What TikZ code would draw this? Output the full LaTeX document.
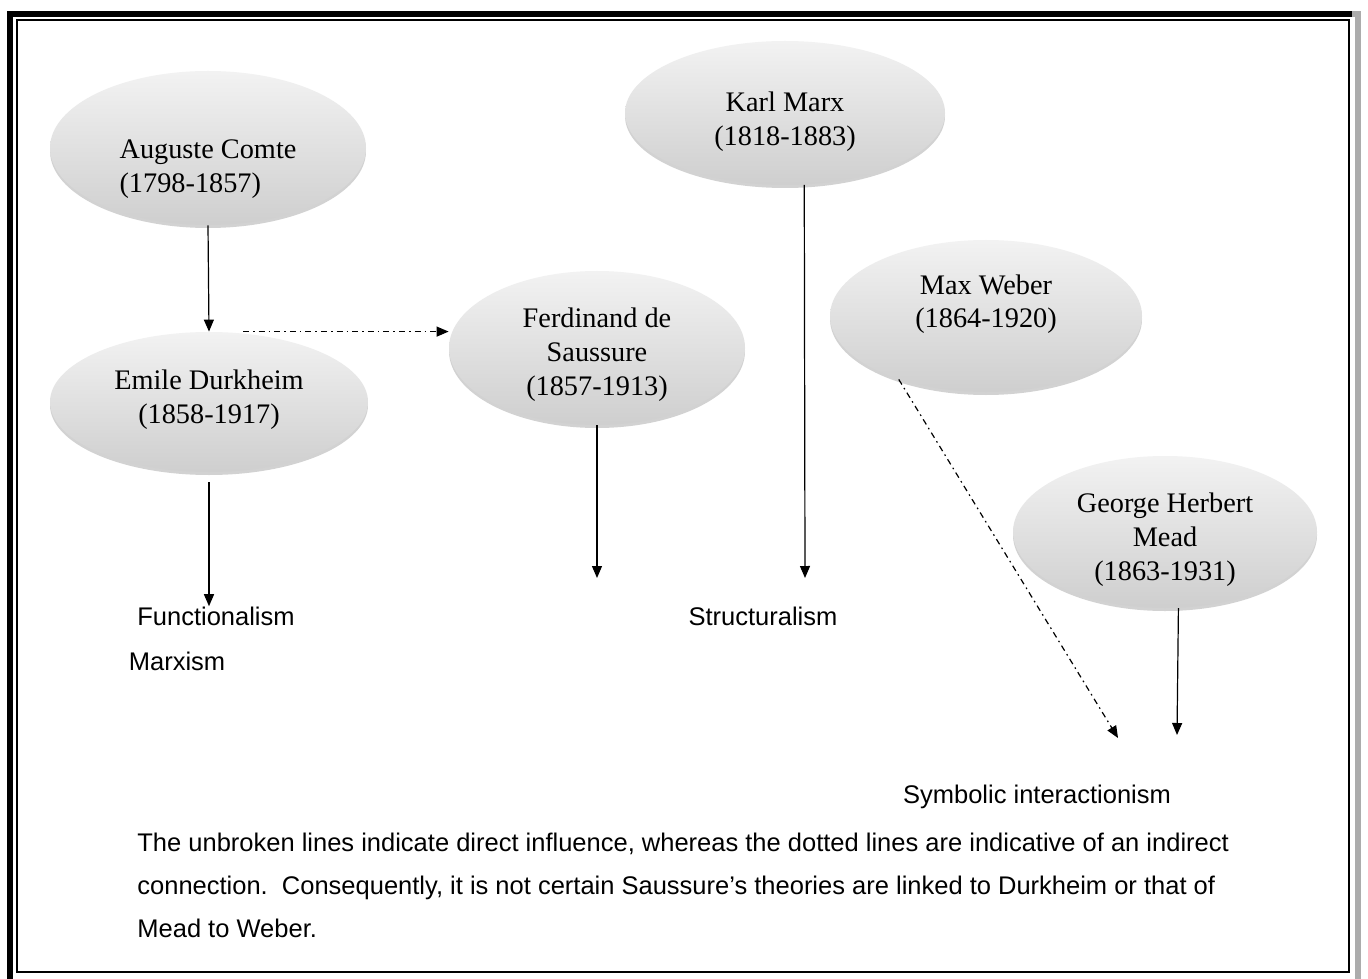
\documentclass[tikz,border=0pt]{standalone}
\usepackage{fontspec}
\setmainfont{Liberation Serif}
\setsansfont{Liberation Sans}
\usepackage{tikz}
\usetikzlibrary{arrows.meta,calc,shadows}
\usetikzlibrary{shapes.geometric}
\tikzstyle{thinker}=[ellipse, inner sep=0pt, align=center,
	top color=gray!10, bottom color=gray!38,
	drop shadow={opacity=0.35, shadow xshift=0pt, shadow yshift=-1.5pt},
	font=\fontsize{14.15}{17}\selectfont]
\tikzstyle{school}=[inner sep=0pt, font=\sffamily\fontsize{12.75}{21.5}\selectfont]
\tikzstyle{direct}=[->, >={Triangle[length=6pt,width=5pt]}, line width=0.6pt]
\tikzstyle{indirect}=[direct, dash pattern=on 3pt off 2pt on 0.8pt off 2pt]

\begin{document}
\begin{tikzpicture}[x=0.5pt,y=-0.5pt]
\useasboundingbox (0,0) rectangle (1368,978);
\fill[white] (0,0) rectangle (1368,978);

% frame
\draw[line width=3pt] (10,990) -- (10,14) -- (1352,14);
\draw[line width=3pt, gray!65] (1352,14) -- (1358,14) -- (1358,990);
\draw[line width=0.6pt] (17,20) rectangle (1349,972);

% thinkers
\node[thinker, minimum width=158pt, minimum height=77pt, align=left, text height=49pt, text depth=4pt] (comte) at (208,148) {Auguste Comte\\(1798-1857)};
\node[thinker, minimum width=159pt, minimum height=70pt, text height=25pt, text depth=4pt] (durkheim) at (209,402) {Emile Durkheim\\(1858-1917)};
\node[thinker, minimum width=148pt, minimum height=77pt, text height=50pt, text depth=3pt] (saussure) at (597,348) {Ferdinand de\\Saussure\\(1857-1913)};
\node[thinker, minimum width=160pt, minimum height=72pt, text height=37pt, text depth=4pt] (marx) at (785,113) {Karl Marx\\(1818-1883)};
\node[thinker, minimum width=156pt, minimum height=76pt, text height=16pt, text depth=4pt] (weber) at (986,316) {Max Weber\\(1864-1920)};
\node[thinker, minimum width=152pt, minimum height=76pt, text height=50pt, text depth=2pt] (mead) at (1165,532) {George Herbert\\Mead\\(1863-1931)};

% schools
\node[school] (functionalism) at (216,616) {Functionalism};
\node[school] (marxism) at (177,661) {Marxism};
\node[school] (structuralism) at (763,616) {Structuralism};
\node[school] (symbolic) at (1037,797) {Symbolic interactionism};
\node[school, anchor=west, align=left] (note) at (137,885) {The unbroken lines indicate direct influence, whereas the dotted lines are indicative of an indirect\\connection.\ \ Consequently, it is not certain Saussure's theories are linked to Durkheim or that of\\Mead to Weber.};

\coordinate (durkheimtop) at ($(durkheim.north)+(34,0)$);
\coordinate (saussureend) at (597,578);
\coordinate (marxend) at (805,578);
\coordinate (weberend) at (1118,738);
\coordinate (meadend) at (1177,735);

\draw[direct] (comte.south) -- (durkheim.north);
\draw[indirect] (durkheimtop) -- (durkheimtop -| saussure.west);
\draw[direct, shorten <=5pt] (durkheim.south) -- (durkheim.south |- functionalism.north);
\draw[direct] (saussure.south) -- (saussureend);
\draw[direct] (marx.-75) -- (marxend);
\draw[indirect] (weber.216) -- (weberend);
\draw[direct] (mead.-80) -- (meadend);

\end{tikzpicture}
\end{document}
